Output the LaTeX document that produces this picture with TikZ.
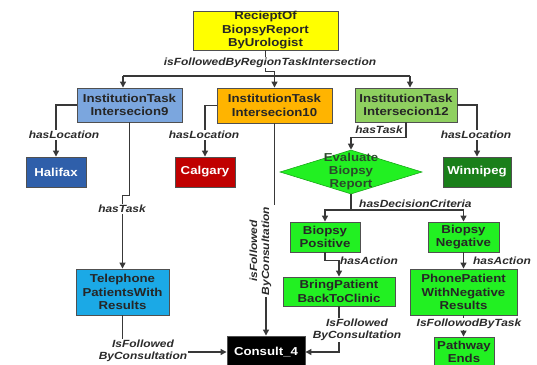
\documentclass[tikz,border=0pt]{standalone}
\usepackage{fontspec}
\setmainfont{Liberation Sans}[FakeStretch=1.15]
\usetikzlibrary{arrows.meta,shapes.geometric}
\definecolor{cyellow}{HTML}{FFFF00}
\definecolor{cblue}{HTML}{7BA6DE}
\definecolor{corange}{HTML}{FFB400}
\definecolor{cgreenlt}{HTML}{8FD060}
\definecolor{chalifax}{HTML}{2F5FAA}
\definecolor{ccalgary}{HTML}{C00000}
\definecolor{cwinnipeg}{HTML}{1A7F1A}
\definecolor{ctel}{HTML}{1BA9E6}
\definecolor{clime}{HTML}{22F022}
\definecolor{boxline}{HTML}{505050}
\definecolor{linegray}{HTML}{383838}
\definecolor{labgray}{HTML}{2B2B2B}
\definecolor{evaltxt}{HTML}{2A4A2A}
\begin{document}
\begin{tikzpicture}[x=1pt,y=-1pt,
  box/.style={draw=boxline, line width=0.9pt, inner sep=0pt, align=center,
    font=\bfseries\fontsize{11.5}{13.5}\selectfont, text=black!85},
  elab/.style={font=\bfseries\itshape\fontsize{10.4}{12}\selectfont, text=labgray,
    inner sep=1pt, align=center},
  wlab/.style={elab, fill=white},
  conn/.style={draw=linegray, line width=1.2pt},
  arr/.style={conn, -{Triangle[length=6pt,width=6pt]}}]
\useasboundingbox (0,0) rectangle (537,364);
% nodes
\node[box, fill=cyellow, minimum width=145, minimum height=39] (top) at (265.5,30.5) {RecieptOf\\BiopsyReport\\ByUrologist};
\node[box, fill=cblue, minimum width=105, minimum height=34] (b9) at (129.5,105) {InstitutionTask\\Intersecion9};
\node[box, fill=corange, minimum width=115, minimum height=35] (b10) at (274.5,105.5) {InstitutionTask\\Intersecion10};
\node[box, fill=cgreenlt, minimum width=102, minimum height=34] (b12) at (406,105) {InstitutionTask\\Intersecion12};
\node[box, fill=chalifax, text=white, minimum width=60, minimum height=30] (hal) at (56,172) {Halifax};
\node[box, fill=ccalgary, text=white, minimum width=60, minimum height=30] (cal) at (205,172) {Calgary};
\node[box, fill=cwinnipeg, text=white, minimum width=68, minimum height=30] (win) at (477,172) {Winnipeg};
\node[diamond, draw=clime!70!black, line width=0.6pt, fill=clime, inner sep=0pt,
  minimum width=142, minimum height=44] (eval) at (351,172) {};
\node[align=center, inner sep=0pt, text=evaltxt, font=\bfseries\fontsize{11.5}{13}\selectfont] (evaltext) at (351,172) {Evaluate\\Biopsy\\Report};
\node[box, fill=clime, minimum width=70, minimum height=30] (bpos) at (325,237) {Biopsy\\Positive};
\node[box, fill=clime, minimum width=71, minimum height=30] (bneg) at (463.5,237) {Biopsy\\Negative};
\node[box, fill=clime, minimum width=112, minimum height=29] (bring) at (339,291.5) {BringPatient\\BackToClinic};
\node[box, fill=clime, minimum width=107, minimum height=46] (phone) at (463.5,292) {PhonePatient\\WithNegative\\Results};
\node[box, fill=ctel, minimum width=93, minimum height=46] (tel) at (122.5,292) {Telephone\\PatientsWith\\Results};
\node[box, fill=black, text=white, minimum width=78, minimum height=32] (cons) at (266,352) {Consult\_4};
\node[box, fill=clime, minimum width=60, minimum height=30] (path) at (464,352) {Pathway\\Ends};
% top fan-out
\coordinate (hl) at (123,76);
\coordinate (hc) at (274.5,76);
\coordinate (hr) at (410,76);
\draw[conn] (top.south) -- ++(0,21) -| (hc);
\draw[conn] (hl) -- (hr);
\draw[arr] (hl) -- (hl |- b9.north);
\draw[arr] (hc) -- (b10.north);
\draw[arr] (hr) -- (hr |- b12.north);
\node[wlab, inner sep=0.3pt] at (270,62.5) {isFollowedByRegionTaskIntersection};
% locations
\draw[arr] (b9.west) -| (hal.north);
\draw[arr] (b10.west) -| (cal.north);
\draw[arr] (b12.east) -| (win.north);
\node[wlab] at (64,135) {hasLocation};
\node[wlab] at (204,135) {hasLocation};
\node[wlab] at (476,135) {hasLocation};
% tasks
\draw[arr] (b12.south) -- ++(0,15) -| (eval.north);
\node[elab] at (379,130) {hasTask};
\draw[arr] (b9.south) -- ++(0,73) -| (tel.north);
\node[wlab] at (122,209) {hasTask};
% consultation links
\draw[arr] (tel.south) |- (cons.west);
\node[wlab] at (143,351) {IsFollowed\\ByConsultation};
\coordinate (m1) at (274.5,250);
\draw[arr] (b10.south) -- (m1) -| (cons.north);
\node[wlab, rotate=90, inner sep=2pt, minimum height=38] at (260.5,251) {isFollowed\\ByConsultation};
\draw[arr] (bring.south) |- (cons.east);
\node[wlab] at (357,330) {IsFollowed\\ByConsultation};
% decision
\coordinate (d1) at (351,210);
\draw[conn] (eval.south) -- (d1);
\draw[arr] (d1) -| (bpos.north);
\draw[arr] (d1) -| (bneg.north);
\node[elab, anchor=west] at (358,203.5) {hasDecisionCriteria};
\draw[arr] (bpos.south) -- ++(0,8) -| (bring.north);
\node[elab] at (369,261) {hasAction};
\draw[arr] (bneg.south) -- (phone.north);
\node[elab] at (502,261) {hasAction};
\draw[arr] (phone.south) -- (phone.south |- path.north);
\node[wlab] at (469,324) {IsFollowodByTask};
\end{tikzpicture}
\end{document}
